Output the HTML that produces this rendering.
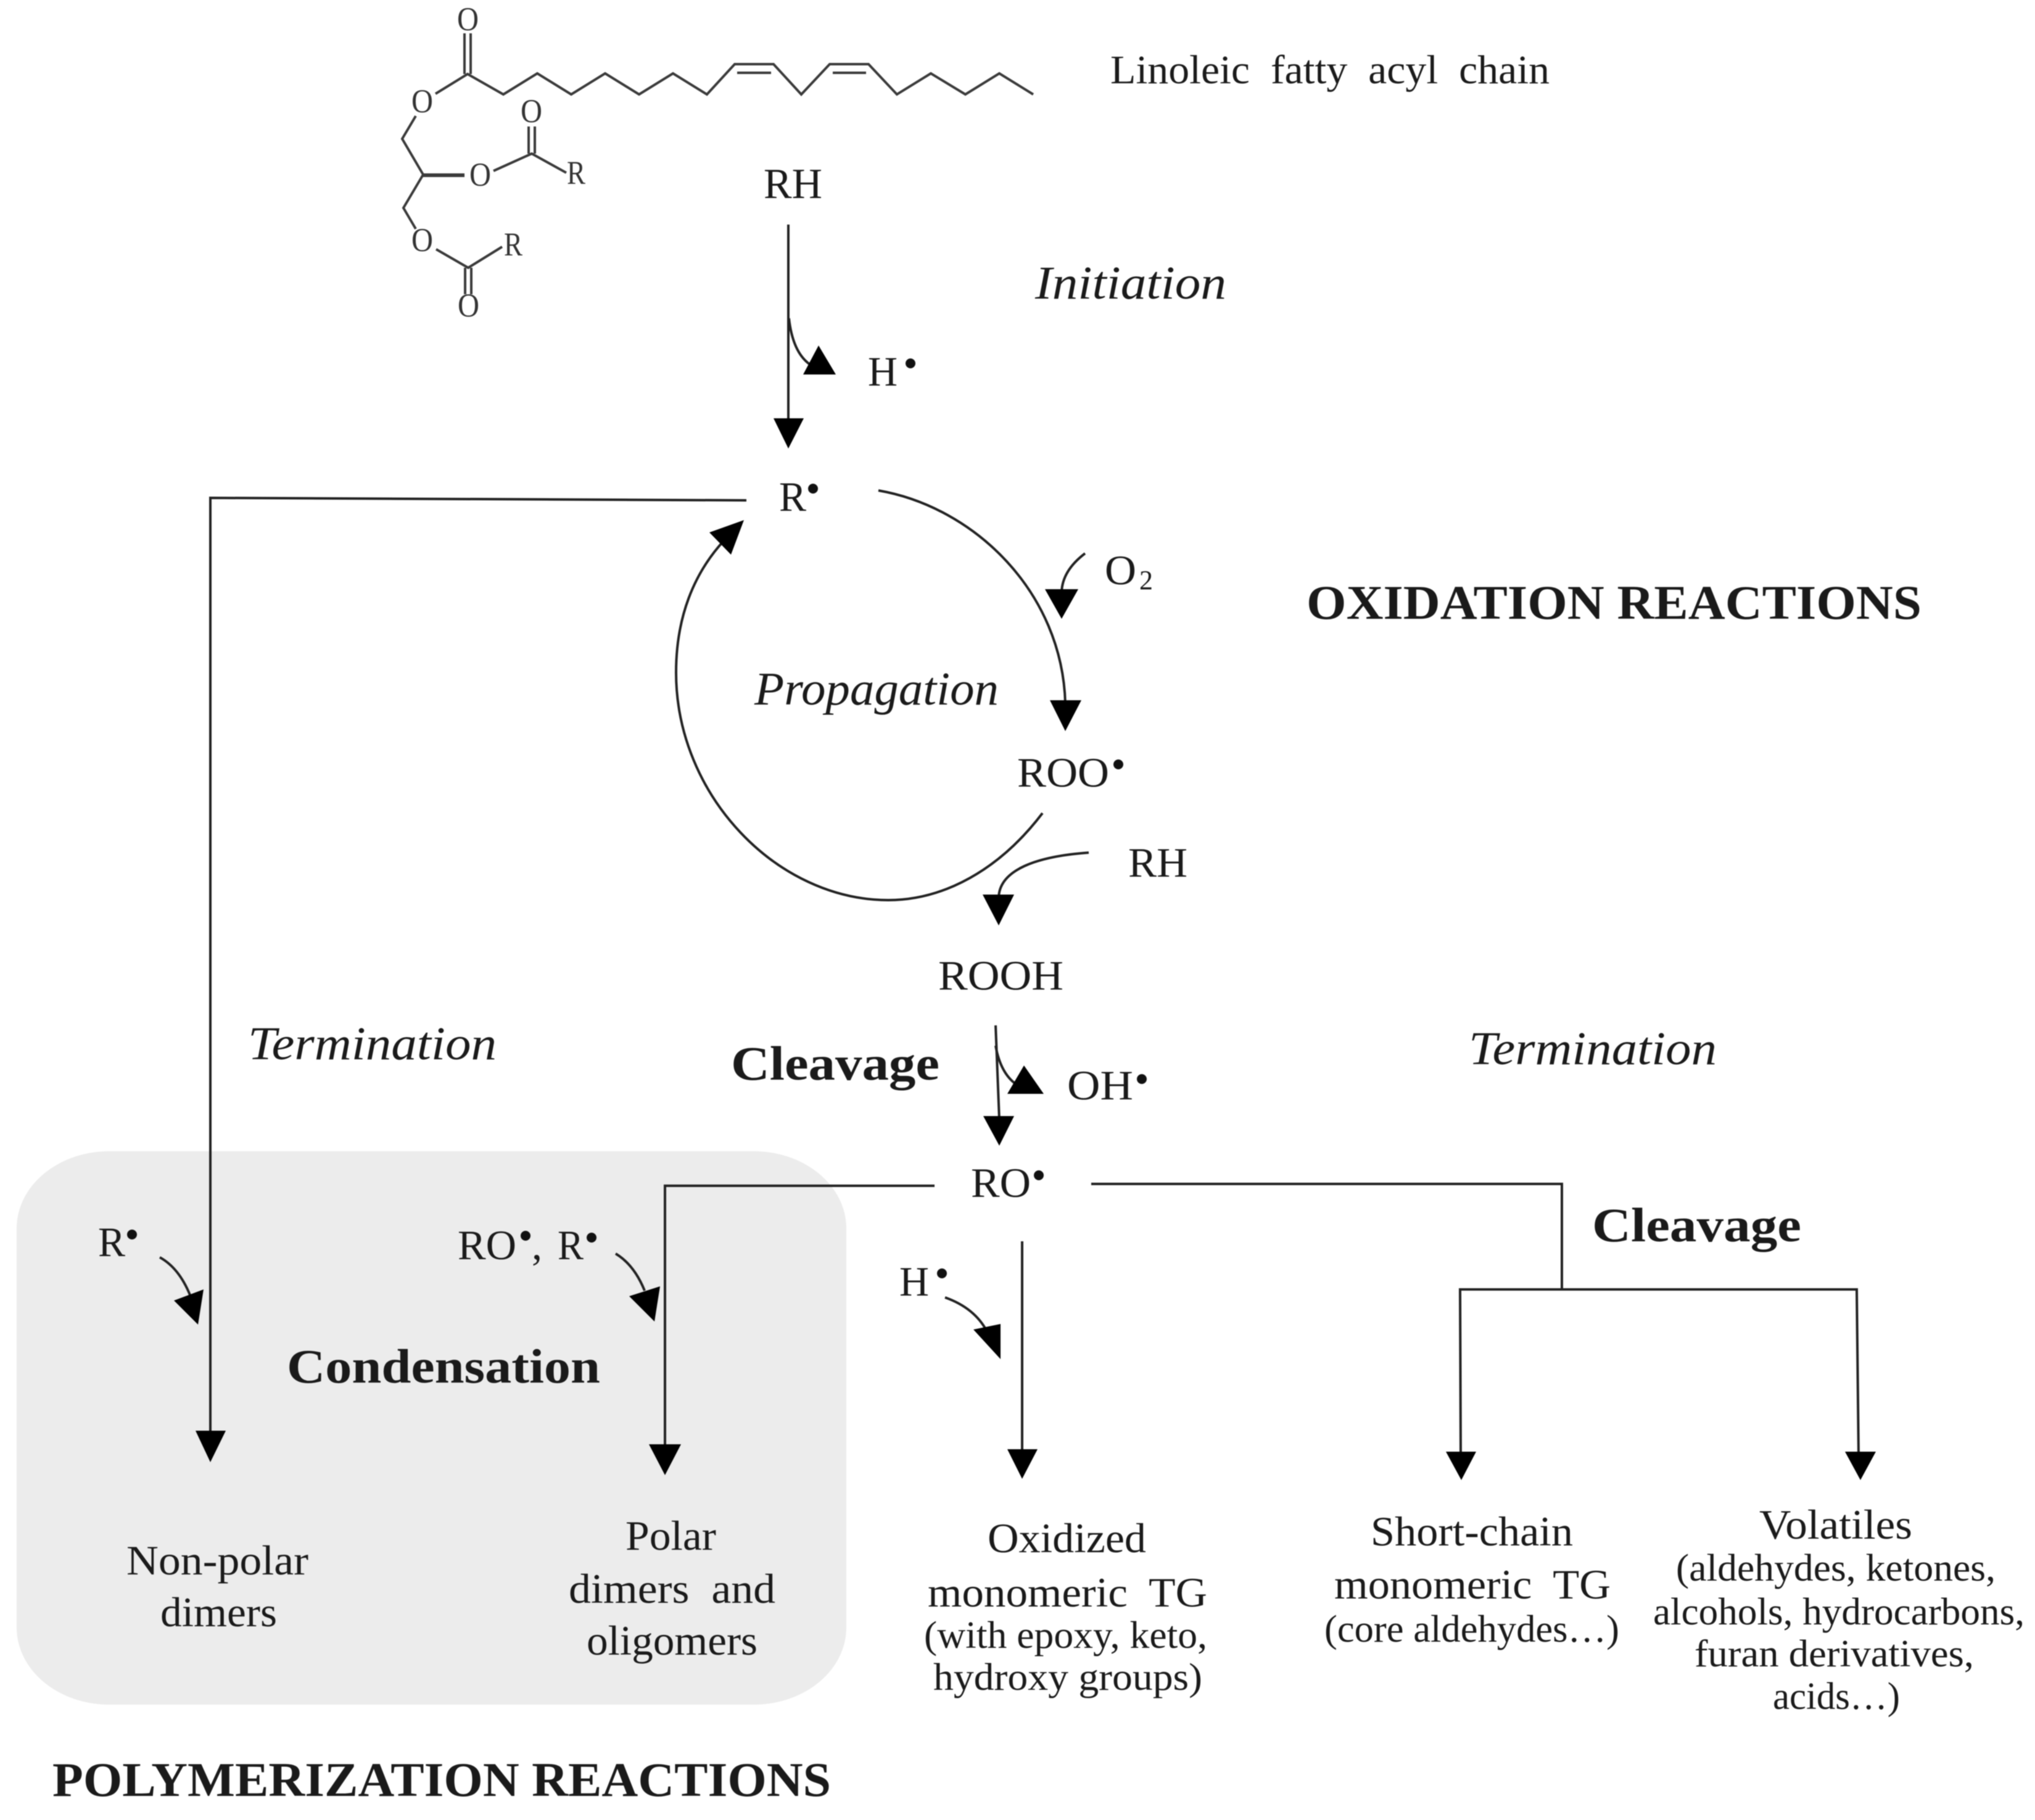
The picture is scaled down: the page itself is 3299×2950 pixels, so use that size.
<!DOCTYPE html>
<html><head><meta charset="utf-8"><style>
html,body{margin:0;padding:0;background:#fff}
svg{display:block;filter:blur(0.9px)}
text{font-family:"Liberation Serif",serif;fill:#1a1a1a;white-space:pre}
.b{font-weight:bold}.i{font-style:italic}
.l{fill:none;stroke:#222;stroke-width:4}
.m{fill:none;stroke:#3a3a3a;stroke-width:4}
.a{fill:#000;stroke:none}
.mt{font-size:54px;fill:#333}
</style></head><body>
<svg width="3299" height="2950" viewBox="0 0 3299 2950" xmlns="http://www.w3.org/2000/svg">
<rect width="3299" height="2950" fill="#fff"/>
<rect x="27" y="1866" width="1345" height="897" rx="150" ry="125" fill="#ececec"/>

<!-- molecule -->
<path class="m" d="M706 152L758 120L816 153L871 119L926 153L981 119L1036 153L1091 119L1146 153L1191 104H1254L1299 153L1345 104H1408L1454 153L1509 119L1565 153L1620 119L1675 153"/>
<path class="m" d="M753 54V120M763 54V120M1195 118H1250M1350 118H1404"/>
<path class="m" d="M674 188L652 225L686 283M800 277L862 249L918 280M857 205V249M867 205V249M686 283L654 337L674 371M707 404L759 434L814 400M754 434V477M764 434V477"/>
<path class="m" d="M686 284H753" style="stroke-width:6"/>
<text class="mt" x="741" y="49" textLength="35" lengthAdjust="spacingAndGlyphs">O</text>
<text class="mt" x="667" y="182" textLength="35" lengthAdjust="spacingAndGlyphs">O</text>
<text class="mt" x="844" y="198" textLength="35" lengthAdjust="spacingAndGlyphs">O</text>
<text class="mt" x="761" y="301" textLength="35" lengthAdjust="spacingAndGlyphs">O</text>
<text class="mt" x="667" y="407" textLength="35" lengthAdjust="spacingAndGlyphs">O</text>
<text class="mt" x="742" y="513" textLength="35" lengthAdjust="spacingAndGlyphs">O</text>
<text class="mt" x="919" y="298" textLength="30" lengthAdjust="spacingAndGlyphs">R</text>
<text class="mt" x="817" y="414" textLength="30" lengthAdjust="spacingAndGlyphs">R</text>

<!-- labels -->
<text x="1800" y="135" font-size="66" textLength="712" lengthAdjust="spacingAndGlyphs">Linoleic  fatty  acyl  chain</text>
<text x="1238" y="321" font-size="70" textLength="95" lengthAdjust="spacingAndGlyphs">RH</text>
<text class="i" x="1678" y="484" font-size="76" textLength="310" lengthAdjust="spacingAndGlyphs">Initiation</text>
<text x="1407" y="625" font-size="68" textLength="48" lengthAdjust="spacingAndGlyphs">H</text>
<circle cx="1476" cy="589" r="8" fill="#111"/>
<text x="1263" y="828" font-size="68" textLength="44" lengthAdjust="spacingAndGlyphs">R</text>
<circle cx="1318" cy="792" r="8" fill="#111"/>
<text x="1791" y="947" font-size="68" textLength="51" lengthAdjust="spacingAndGlyphs">O</text>
<text x="1847" y="955" font-size="44" textLength="22" lengthAdjust="spacingAndGlyphs">2</text>
<text class="b" x="2118" y="1003" font-size="78" textLength="997" lengthAdjust="spacingAndGlyphs">OXIDATION REACTIONS</text>
<text class="i" x="1223" y="1142" font-size="76" textLength="396" lengthAdjust="spacingAndGlyphs">Propagation</text>
<text x="1649" y="1275" font-size="68" textLength="149" lengthAdjust="spacingAndGlyphs">ROO</text>
<circle cx="1813" cy="1239" r="8" fill="#111"/>
<text x="1829" y="1421" font-size="68" textLength="96" lengthAdjust="spacingAndGlyphs">RH</text>
<text x="1521" y="1604" font-size="68" textLength="203" lengthAdjust="spacingAndGlyphs">ROOH</text>
<text class="i" x="402" y="1717" font-size="76" textLength="403" lengthAdjust="spacingAndGlyphs">Termination</text>
<text class="i" x="2381" y="1725" font-size="76" textLength="402" lengthAdjust="spacingAndGlyphs">Termination</text>
<text class="b" x="1185" y="1750" font-size="78" textLength="338" lengthAdjust="spacingAndGlyphs">Cleavage</text>
<text x="1730" y="1782" font-size="68" textLength="107" lengthAdjust="spacingAndGlyphs">OH</text>
<circle cx="1851" cy="1749" r="8" fill="#111"/>
<text x="1574" y="1940" font-size="68" textLength="97" lengthAdjust="spacingAndGlyphs">RO</text>
<circle cx="1684" cy="1905" r="8" fill="#111"/>
<text class="b" x="2581" y="2012" font-size="78" textLength="339" lengthAdjust="spacingAndGlyphs">Cleavage</text>
<text x="159" y="2036" font-size="68" textLength="44" lengthAdjust="spacingAndGlyphs">R</text>
<circle cx="214" cy="2001" r="8" fill="#111"/>
<text x="742" y="2041" font-size="68" textLength="95" lengthAdjust="spacingAndGlyphs">RO</text>
<circle cx="852" cy="2003" r="8" fill="#111"/>
<text x="862" y="2041" font-size="68">,</text>
<text x="904" y="2041" font-size="68" textLength="42" lengthAdjust="spacingAndGlyphs">R</text>
<circle cx="959" cy="2006" r="8" fill="#111"/>
<text x="1458" y="2100" font-size="68" textLength="48" lengthAdjust="spacingAndGlyphs">H</text>
<circle cx="1527" cy="2064" r="8" fill="#111"/>
<text class="b" x="465" y="2241" font-size="78" textLength="508" lengthAdjust="spacingAndGlyphs">Condensation</text>

<text x="205" y="2552" font-size="68" textLength="295" lengthAdjust="spacingAndGlyphs">Non-polar</text>
<text x="260" y="2636" font-size="68" textLength="189" lengthAdjust="spacingAndGlyphs">dimers</text>
<text x="1014" y="2512" font-size="68" textLength="147" lengthAdjust="spacingAndGlyphs">Polar</text>
<text x="922" y="2598" font-size="68" textLength="335" lengthAdjust="spacingAndGlyphs">dimers  and</text>
<text x="951" y="2682" font-size="68" textLength="277" lengthAdjust="spacingAndGlyphs">oligomers</text>
<text x="1601" y="2516" font-size="68" textLength="257" lengthAdjust="spacingAndGlyphs">Oxidized</text>
<text x="1504" y="2604" font-size="68" textLength="453" lengthAdjust="spacingAndGlyphs">monomeric  TG</text>
<text x="1498" y="2671" font-size="62" textLength="459" lengthAdjust="spacingAndGlyphs">(with epoxy, keto,</text>
<text x="1513" y="2739" font-size="62" textLength="436" lengthAdjust="spacingAndGlyphs">hydroxy groups)</text>
<text x="2222" y="2505" font-size="68" textLength="328" lengthAdjust="spacingAndGlyphs">Short-chain</text>
<text x="2163" y="2591" font-size="68" textLength="448" lengthAdjust="spacingAndGlyphs">monomeric  TG</text>
<text x="2147" y="2661" font-size="62" textLength="478" lengthAdjust="spacingAndGlyphs">(core aldehydes…)</text>
<text x="2852" y="2494" font-size="68" textLength="248" lengthAdjust="spacingAndGlyphs">Volatiles</text>
<text x="2717" y="2562" font-size="62" textLength="518" lengthAdjust="spacingAndGlyphs">(aldehydes, ketones,</text>
<text x="2680" y="2633" font-size="62" textLength="602" lengthAdjust="spacingAndGlyphs">alcohols, hydrocarbons,</text>
<text x="2747" y="2701" font-size="62" textLength="453" lengthAdjust="spacingAndGlyphs">furan derivatives,</text>
<text x="2874" y="2770" font-size="62" textLength="206" lengthAdjust="spacingAndGlyphs">acids…)</text>
<text class="b" x="85" y="2911" font-size="78" textLength="1262" lengthAdjust="spacingAndGlyphs">POLYMERIZATION REACTIONS</text>

<!-- connectors -->
<path class="l" d="M1278 364V690"/>
<path class="a" d="M1254 678H1303L1278 727Z"/>
<path class="l" d="M1279 516Q1285 570 1312 590"/>
<path class="a" d="M1327 560L1302 607H1355Z"/>
<path class="l" d="M1210 811L341 807V2325"/>
<path class="a" d="M317 2319H366L341 2370Z"/>
<path class="l" d="M1424 795C1580 822 1722 960 1727 1140"/>
<path class="a" d="M1702 1135H1753L1727 1185Z"/>
<path class="l" d="M1690 1318C1620 1410 1530 1459 1440 1459C1260 1459 1096 1290 1096 1090C1096 1000 1125 930 1172 878"/>
<path class="a" d="M1206 843L1150 863L1185 899Z"/>
<path class="l" d="M1759 897Q1722 925 1721 960"/>
<path class="a" d="M1694 955H1748L1721 1003Z"/>
<path class="l" d="M1765 1382C1680 1388 1620 1410 1619 1455"/>
<path class="a" d="M1593 1450H1644L1619 1500Z"/>
<path class="l" d="M1614 1662L1620 1815"/>
<path class="a" d="M1594 1809H1644L1620 1857Z"/>
<path class="l" d="M1614 1695Q1622 1740 1648 1758"/>
<path class="a" d="M1660 1727L1633 1773H1692Z"/>
<path class="l" d="M1515 1922H1078V2345"/>
<path class="a" d="M1052 2341H1104L1078 2391Z"/>
<path class="l" d="M1769 1919H2532V2090"/>
<path class="l" d="M2368 2358L2367 2090H3010L3013 2358"/>
<path class="a" d="M2344 2353H2393L2369 2399Z"/>
<path class="a" d="M2991 2353H3041L3016 2399Z"/>
<path class="l" d="M1657 2012V2355"/>
<path class="a" d="M1633 2349H1682L1657 2397Z"/>
<path class="l" d="M1532 2103Q1580 2120 1600 2158"/>
<path class="a" d="M1578 2155L1622 2146V2203Z"/>
<path class="l" d="M259 2038Q290 2055 308 2099"/>
<path class="a" d="M282 2108L330 2090L321 2147Z"/>
<path class="l" d="M998 2032Q1028 2050 1045 2092"/>
<path class="a" d="M1020 2101L1070 2085L1061 2142Z"/>
</svg>
</body></html>
